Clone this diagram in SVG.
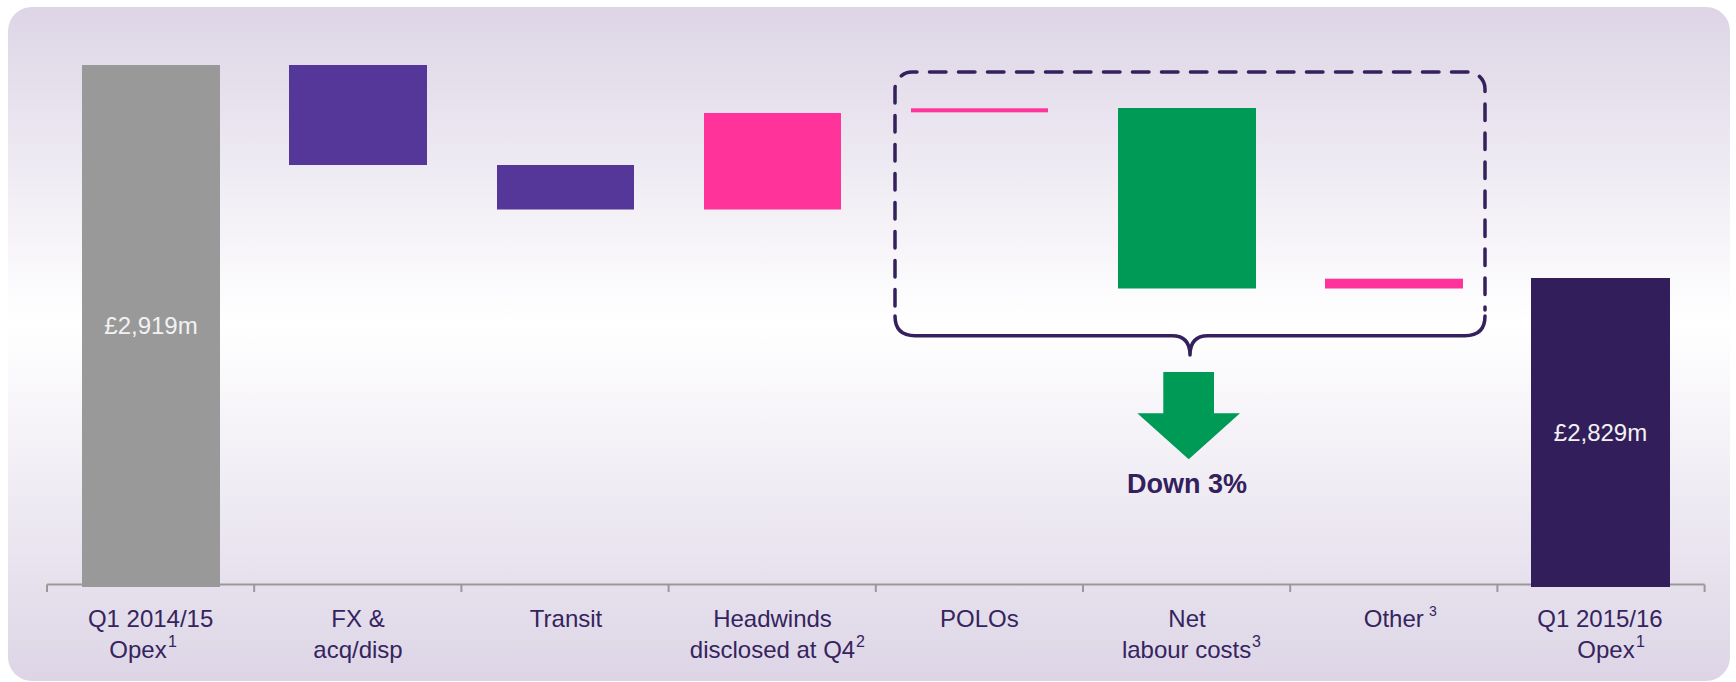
<svg xmlns="http://www.w3.org/2000/svg" width="1736" height="682" viewBox="0 0 1736 682">
  <defs>
    <linearGradient id="bg" x1="0" y1="0" x2="0" y2="1">
      <stop offset="0" stop-color="#DDD5E6"/>
      <stop offset="0.47" stop-color="#FFFFFF"/>
      <stop offset="1" stop-color="#DDD5E6"/>
    </linearGradient>
  </defs>
  <style>
    .lbl { font-family: "Liberation Sans", Arial, sans-serif; font-size: 24px; fill: #35245E; text-anchor: middle; }
    .sup { font-family: "Liberation Sans", Arial, sans-serif; font-size: 16px; fill: #35245E; }
    .val { font-family: "Liberation Sans", Arial, sans-serif; font-size: 24px; fill: #F2F2F2; text-anchor: middle; }
    .purple { fill: #553699; }
    .pink { fill: #FF3399; }
    .axis { stroke: #999999; stroke-width: 2; fill: none; }
    .brace { stroke: #33205C; stroke-width: 3.5; fill: none; stroke-linecap: round; stroke-linejoin: round; }
  </style>

  <rect x="8" y="7" width="1722" height="674" rx="24" fill="url(#bg)"/>

  <g id="axis">
    <path class="axis" d="M47 584.5 H1704.6 M47 584.5 V592 M254.2 584.5 V592 M461.4 584.5 V592 M668.6 584.5 V592 M875.8 584.5 V592 M1083 584.5 V592 M1290.2 584.5 V592 M1497.4 584.5 V592 M1704.6 584.5 V592"/>
  </g>

  <g id="q1-2014">
    <rect x="82" y="65" width="138" height="522" fill="#999999"/>
    <text class="val" x="151" y="334">£2,919m</text>
    <text class="lbl" x="150.6" y="627">Q1 2014/15</text>
    <text class="lbl" x="138" y="658">Opex</text>
    <text class="sup" x="168" y="647">1</text>
  </g>

  <g id="fx">
    <rect class="purple" x="289" y="65" width="138" height="100"/>
    <text class="lbl" x="358" y="627">FX &amp;</text>
    <text class="lbl" x="358" y="658">acq/disp</text>
  </g>

  <g id="transit">
    <rect class="purple" x="497" y="165" width="137" height="44.5"/>
    <text class="lbl" x="566" y="627">Transit</text>
  </g>

  <g id="headwinds">
    <rect class="pink" x="704" y="113" width="137" height="96.5"/>
    <text class="lbl" x="772.5" y="627">Headwinds</text>
    <text class="lbl" x="772.5" y="658">disclosed at Q4</text>
    <text class="sup" x="856" y="647">2</text>
  </g>

  <g id="polos">
    <rect class="pink" x="911" y="108.3" width="137" height="4"/>
    <text class="lbl" x="979.4" y="627">POLOs</text>
  </g>

  <g id="net-labour">
    <rect x="1118" y="108" width="138" height="180.5" fill="#009A57"/>
    <text class="lbl" x="1187" y="627">Net</text>
    <text class="lbl" x="1186.6" y="658">labour costs</text>
    <text class="sup" x="1252" y="647">3</text>
  </g>

  <g id="other">
    <rect class="pink" x="1325" y="278.7" width="138" height="9.8"/>
    <text class="lbl" x="1393.8" y="627">Other</text>
    <text class="sup" x="1429" y="616" style="font-size:14px">3</text>
  </g>

  <g id="q1-2015">
    <rect x="1531" y="278" width="139" height="309" fill="#321E5A"/>
    <text class="val" x="1600.5" y="441">£2,829m</text>
    <text class="lbl" x="1600" y="627">Q1 2015/16</text>
    <text class="lbl" x="1606" y="658">Opex</text>
    <text class="sup" x="1636" y="647">1</text>
  </g>

  <g id="connectors">
    <path class="brace" stroke-dasharray="16.5 12.5" stroke-linecap="butt" d="M895 306 V89 A17 17 0 0 1 912 72 H1468 A17 17 0 0 1 1485 89 V310"/>
    <path class="brace" d="M895 316 Q895 335.7 915 335.7 H1172 Q1190 335.7 1190 355 Q1190 335.7 1208 335.7 H1465 Q1485 335.7 1485 316"/>
  </g>

  <g id="down-arrow">
    <polygon points="1163.3,372 1214,372 1214,413.3 1240,413.3 1188.7,459.3 1137.3,413.3 1163.3,413.3" fill="#009A57"/>
    <text x="1187" y="493" style="font-family:'Liberation Sans', Arial, sans-serif; font-size:27px; font-weight:bold; fill:#33205C; text-anchor:middle">Down 3%</text>
  </g>
</svg>
